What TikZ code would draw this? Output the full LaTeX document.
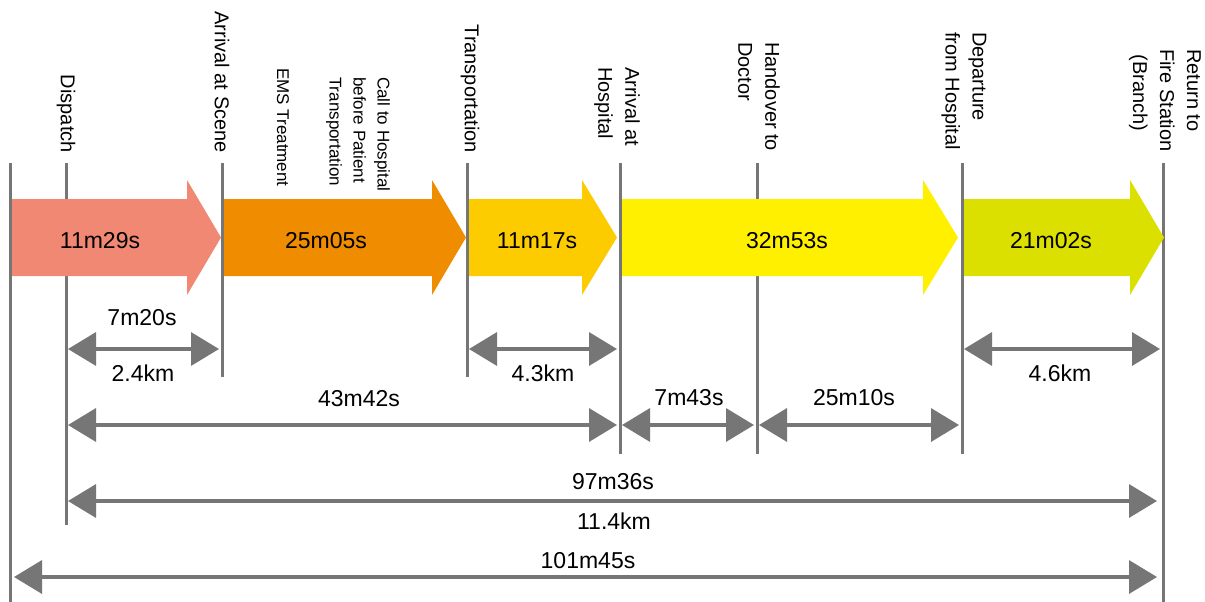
\documentclass[tikz,border=0pt]{standalone}
\usepackage{fontspec}
\setmainfont{Liberation Sans}
\usetikzlibrary{arrows.meta}
\definecolor{gline}{HTML}{767676}
\definecolor{cSalmon}{HTML}{F08874}
\definecolor{cOrange}{HTML}{F08C00}
\definecolor{cGold}{HTML}{FCCC00}
\definecolor{cYellow}{HTML}{FFF000}
\definecolor{cLime}{HTML}{DCE000}
\begin{document}
\begin{tikzpicture}[x=1pt,y=-1pt,
  vline/.style={draw=gline,line width=3pt},
  dimarrow/.style={draw=gline,line width=3.5pt,
    {Triangle[length=28pt,width=33pt]}-{Triangle[length=28pt,width=33pt]},
    shorten <=2pt, shorten >=3pt},
  evlabel/.style={rotate=-90,inner sep=0pt,align=left,font=\fontsize{20}{27}\selectfont},
  evsmall/.style={rotate=-90,inner sep=0pt,align=left,font=\fontsize{17}{24}\selectfont},
  barlabel/.style={inner sep=0pt,font=\fontsize{23}{27}\selectfont},
  dimlabel/.style={inner sep=0pt,font=\fontsize{23}{27}\selectfont}]
\useasboundingbox (0,0) rectangle (1205,602);
\fill[white] (0,0) rectangle (1205,602);

% vertical event lines
\coordinate (v0t) at (10,163);   \coordinate (v0b) at (10,602);
\coordinate (v1t) at (66,163);   \coordinate (v1b) at (66,525);
\coordinate (v2t) at (222,163);  \coordinate (v2b) at (222,377);
\coordinate (v3t) at (467,163);  \coordinate (v3b) at (467,377);
\coordinate (v4t) at (620,163);  \coordinate (v4b) at (620,454);
\coordinate (v5t) at (757,163);  \coordinate (v5b) at (757,454);
\coordinate (v6t) at (962,163);  \coordinate (v6b) at (962,454);
\coordinate (v7t) at (1163,163); \coordinate (v7b) at (1163,602);
\foreach \i in {0,...,7} {\draw[vline] (v\i t) -- (v\i b);}

% fat arrows
\fill[cSalmon] (12,199) -- (187,199) -- (187,180) -- (221,237.5) -- (187,295) -- (187,276) -- (12,276) -- cycle;
\fill[cOrange] (224,199) -- (432,199) -- (432,180) -- (466,237.5) -- (432,295) -- (432,276) -- (224,276) -- cycle;
\fill[cGold] (469,199) -- (582,199) -- (582,180) -- (617,237.5) -- (582,295) -- (582,276) -- (469,276) -- cycle;
\fill[cYellow] (622,199) -- (923,199) -- (923,180) -- (958,237.5) -- (923,295) -- (923,276) -- (622,276) -- cycle;
\fill[cLime] (964,199) -- (1130,199) -- (1130,180) -- (1164,237.5) -- (1130,295) -- (1130,276) -- (964,276) -- cycle;

\node[barlabel] (b1) at (100,241) {11m29s};
\node[barlabel] (b2) at (326,241) {25m05s};
\node[barlabel] (b3) at (537,241) {11m17s};
\node[barlabel] (b4) at (787,241) {32m53s};
\node[barlabel] (b5) at (1051,241) {21m02s};

% event labels
\node[evlabel,anchor=east] (e1) at (66,153) {Dispatch};
\node[evlabel,anchor=east] (e2) at (222,153) {Arrival at Scene};
\node[evsmall,anchor=west] (e3) at (283,68) {EMS Treatment};
\node[evsmall,anchor=west] (e4) at (358,77) {Call to Hospital\\before Patient\\Transportation};
\node[evlabel,anchor=east] (e5) at (470,153) {Transportation};
\node[evlabel,anchor=west] (e6) at (617,67) {Arrival at\\Hospital};
\node[evlabel,anchor=west] (e7) at (759,42) {Handover to\\Doctor};
\node[evlabel,anchor=west] (e8) at (964,32) {Departure\\from Hospital};
\node[evlabel,anchor=west] (e9) at (1165,49) {Return to\\Fire Station\\\hspace*{5.5pt}(Branch)};

% dimension arrows
\coordinate (a1l) at (66,349);  \coordinate (a1r) at (222,349);
\coordinate (a2l) at (467,349); \coordinate (a2r) at (620,349);
\coordinate (a3l) at (962,349); \coordinate (a3r) at (1163,349);
\coordinate (a4l) at (66,425);  \coordinate (a4r) at (620,425);
\coordinate (a5l) at (620,425); \coordinate (a5r) at (757,425);
\coordinate (a6l) at (757,425); \coordinate (a6r) at (962,425);
\coordinate (a7l) at (66,501);  \coordinate (a7r) at (1163,501);
\coordinate (a8l) at (10,577);  \coordinate (a8r) at (1163,577);
\draw[dimarrow] (a1l) -- (a1r);
\draw[dimarrow] (a2l) -- (a2r);
\draw[dimarrow] (a3l) -- (a3r);
\draw[dimarrow] (a4l) -- (a4r);
\draw[dimarrow] (a5l) -- (a5r);
\draw[dimarrow] (a6l) -- (a6r);
\draw[dimarrow,shorten >=6pt] (a7l) -- (a7r);
\draw[dimarrow,shorten <=4pt,shorten >=6pt] (a8l) -- (a8r);

\node[dimlabel] (t1) at (142,318) {7m20s};
\node[dimlabel] (t2) at (143,373) {2.4km};
\node[dimlabel] (t3) at (543,373) {4.3km};
\node[dimlabel] (t4) at (1060,373) {4.6km};
\node[dimlabel] (t5) at (359,399) {43m42s};
\node[dimlabel] (t6) at (689,398) {7m43s};
\node[dimlabel] (t7) at (854,398) {25m10s};
\node[dimlabel] (t8) at (613,482) {97m36s};
\node[dimlabel] (t9) at (614,521) {11.4km};
\node[dimlabel] (t10) at (588,561) {101m45s};
\end{tikzpicture}
\end{document}
